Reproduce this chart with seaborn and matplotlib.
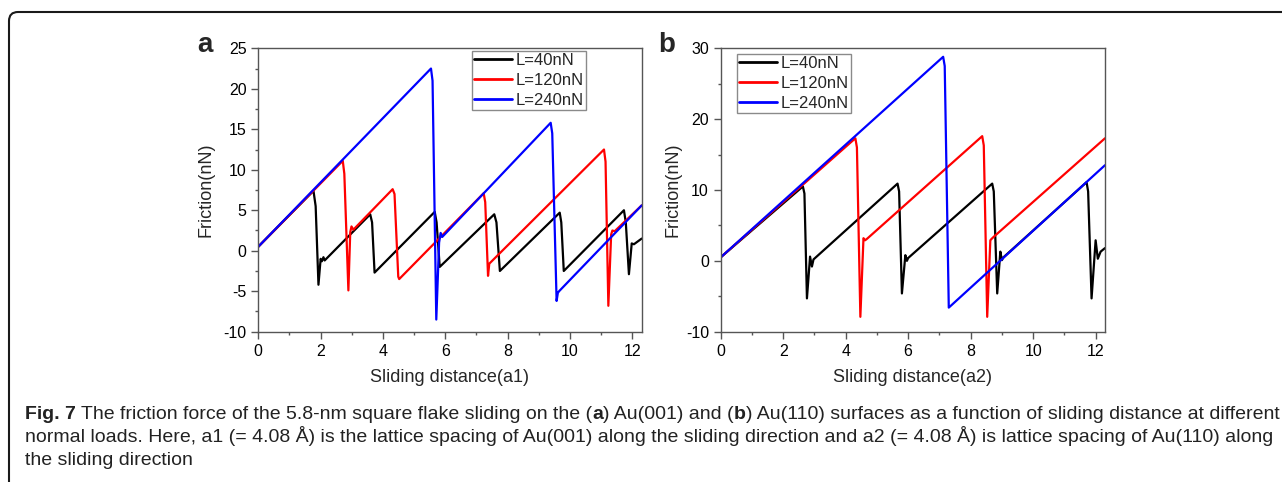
import matplotlib
matplotlib.use("Agg")
import matplotlib.pyplot as plt
import seaborn as sns
import pandas as pd
from matplotlib.patches import FancyBboxPatch
from matplotlib.transforms import IdentityTransform
from matplotlib.ticker import MultipleLocator

# ---------------- data ----------------
loads = ["L=40nN", "L=120nN", "L=240nN"]
colors = ["#000000", "#ff0000", "#0000ff"]

# panel a : Au(001)
a40_x = [0, 1.77, 1.84, 1.93, 2.00, 2.04, 2.09, 2.13, 2.18, 3.59, 3.65, 3.73,
         5.66, 5.72, 5.82, 7.57, 7.64, 7.75, 9.67, 9.72, 9.80, 11.73, 11.79,
         11.89, 11.98, 12.05, 12.30]
a40_y = [0.5, 7.4, 5.5, -4.2, -1.0, -1.3, -0.8, -1.2, -1.0, 4.5, 3.5, -2.7,
         4.8, 3.5, -2.0, 4.5, 3.5, -2.5, 4.7, 3.5, -2.5, 5.0, 3.5,
         -2.9, 0.9, 0.8, 1.5]
a120_x = [0, 2.71, 2.76, 2.89, 2.95, 2.99, 3.05, 4.31, 4.37, 4.49, 4.52,
          7.23, 7.28, 7.37, 7.41, 11.09, 11.14, 11.23, 11.32, 11.36, 11.43, 12.30]
a120_y = [0.5, 11.1, 9.5, -4.9, 2.3, 3.0, 2.6, 7.6, 7.0, -3.2, -3.5,
          7.1, 6.0, -3.1, -1.6, 12.5, 11.0, -6.8, 2.0, 2.5, 2.4, 5.6]
a240_x = [0, 5.54, 5.59, 5.71, 5.80, 5.85, 5.90, 9.38, 9.43, 9.57, 9.61, 9.65, 12.30]
a240_y = [0.5, 22.5, 21.0, -8.5, 1.0, 2.2, 1.7, 15.8, 14.5, -6.2, -5.2, -5.0, 5.6]

# panel b : Au(110)
b40_x = [0, 2.63, 2.68, 2.76, 2.86, 2.92, 2.97, 5.66, 5.71, 5.80, 5.91, 5.96,
         6.00, 8.69, 8.74, 8.85, 8.95, 9.00, 9.05, 11.71, 11.76, 11.87, 12.00,
         12.07, 12.16, 12.30]
b40_y = [0.5, 10.5, 9.5, -5.3, 0.6, -0.8, 0.2, 10.9, 9.8, -4.6, 0.8, 0.0,
         0.4, 10.9, 9.8, -4.6, 1.3, 0.1, 0.5, 11.1, 9.8, -5.3, 2.9,
         0.3, 1.3, 1.8]
b120_x = [0, 4.31, 4.36, 4.47, 4.57, 4.62, 4.68, 8.37, 8.42, 8.53, 8.63, 8.67, 8.74, 12.30]
b120_y = [0.5, 17.3, 16.0, -7.9, 3.2, 2.9, 3.1, 17.6, 16.3, -7.9, 2.9, 3.1, 3.4, 17.3]
b240_x = [0, 7.12, 7.17, 7.30, 12.30]
b240_y = [0.5, 28.8, 27.5, -6.6, 13.5]

xticks = [0, 2, 4, 6, 8, 10, 12]
a_yticks = [-10, -5, 0, 5, 10, 15, 20, 25]
b_yticks = [-10, 0, 10, 20, 30]

caption_runs_1 = [("Fig. 7", True),
                  (" The friction force of the 5.8-nm square flake sliding on the (", False),
                  ("a", True), (") Au(001) and (", False), ("b", True),
                  (") Au(110) surfaces as a function of sliding distance at different", False)]
caption_line_2 = ("normal loads. Here, a1 (= 4.08 \u00c5) is the lattice spacing of Au(001) along "
                  "the sliding direction and a2 (= 4.08 \u00c5) is lattice spacing of Au(110) along")
caption_line_3 = "the sliding direction"


def frame_of(series):
    rows = []
    for lab, xs, ys in series:
        for xv, yv in zip(xs, ys):
            rows.append({"x": xv, "y": yv, "load": lab})
    return pd.DataFrame(rows)


df_a = frame_of([(loads[0], a40_x, a40_y), (loads[1], a120_x, a120_y), (loads[2], a240_x, a240_y)])
df_b = frame_of([(loads[0], b40_x, b40_y), (loads[1], b120_x, b120_y), (loads[2], b240_x, b240_y)])

# ---------------- figure ----------------
sns.set_style("ticks")
plt.rcParams['font.family'] = ['Liberation Sans', 'DejaVu Sans']
plt.rcParams['axes.unicode_minus'] = False

W, H = 1282, 482
fig = plt.figure(figsize=(W / 100, H / 100), dpi=100)


def px_axes(l, t, r, b):
    return fig.add_axes([l / W, 1 - b / H, (r - l) / W, (b - t) / H])


axA = px_axes(258.3, 48.3, 641.7, 331.7)
axB = px_axes(720.7, 48.3, 1105.0, 331.7)

palette = dict(zip(loads, colors))
spine_c = "#555555"

for ax, df, yt, ymin, ymax, yminor, xlabel, leg_anchor, ylab_x in [
        (axA, df_a, a_yticks, -10, 25, 2.5, "Sliding distance(a1)", (0.557, 0.990), -0.113),
        (axB, df_b, b_yticks, -10, 30, 5, "Sliding distance(a2)", (0.042, 0.980), -0.103)]:
    sns.lineplot(data=df, x="x", y="y", hue="load", hue_order=loads, palette=palette,
                 sort=False, estimator=None, linewidth=1.6, ax=ax)
    ax.set_xlim(0, 12.3)
    ax.set_ylim(ymin, ymax)
    ax.set_xticks(xticks)
    ax.set_yticks(yt)
    ax.xaxis.set_minor_locator(MultipleLocator(1))
    ax.yaxis.set_minor_locator(MultipleLocator(yminor))
    ax.tick_params(which="major", direction="out", length=5, width=1, color=spine_c,
                   labelsize=11.5, labelcolor="black", pad=3.5)
    ax.tick_params(which="minor", direction="out", length=2.5, width=1, color=spine_c)
    ax.tick_params(top=False, right=False, which="both")
    for s in ax.spines.values():
        s.set_visible(True)
        s.set_color(spine_c)
        s.set_linewidth(1)
    ax.set_xlabel(xlabel, fontsize=13)
    ax.set_ylabel("Friction(nN)", fontsize=13)
    ax.xaxis.set_label_coords(0.5, -0.13)
    ax.yaxis.set_label_coords(ylab_x, 0.5)
    h, l = ax.get_legend_handles_labels()
    leg = ax.legend(h, l, loc="upper left", bbox_to_anchor=leg_anchor, fontsize=12,
                    frameon=True, fancybox=False, framealpha=1, edgecolor="#8a8a8a",
                    handlelength=2.3, handletextpad=0.2, labelspacing=0.3,
                    borderpad=0.12, borderaxespad=0)
    leg.get_frame().set_linewidth(1)
    for ln in leg.get_lines():
        ln.set_linewidth(2)

fig.text(197 / W, 1 - 52 / H, "a", fontsize=20, fontweight="bold", ha="left", va="baseline")
fig.text(658 / W, 1 - 52 / H, "b", fontsize=20, fontweight="bold", ha="left", va="baseline")

# rounded outer frame (top-left corner visible)
frame = FancyBboxPatch((9, -30), W + 30, (H - 12) + 30,
                       boxstyle="round,pad=0,rounding_size=9",
                       transform=IdentityTransform(), fill=False, lw=1.5,
                       ec="#1a1a1a", clip_on=False)
fig.add_artist(frame)

# ---------------- caption ----------------
renderer = fig.canvas.get_renderer()
cap_color = "#222222"


def text_width(s, size, bold):
    kw = dict(fontsize=size, fontweight="bold" if bold else "normal")
    t1 = fig.text(0, 0, "|" + s + "|", **kw)
    w1 = t1.get_window_extent(renderer).width
    t1.remove()
    t0 = fig.text(0, 0, "||", **kw)
    w0 = t0.get_window_extent(renderer).width
    t0.remove()
    return w1 - w0


base = 12.0
w_line1 = sum(text_width(s, base, b) for s, b in caption_runs_1)
cap_size = base * (1251.0 / w_line1)


def draw_runs(runs, x_px, baseline_px, size):
    x = x_px
    for s, b in runs:
        stripped = s.lstrip(" ")
        lead = s[:len(s) - len(stripped)]
        if lead:
            x += text_width(lead, size, b)
        fig.text(x / W, 1 - baseline_px / H, stripped, fontsize=size,
                 fontweight="bold" if b else "normal", color=cap_color,
                 ha="left", va="baseline")
        x += text_width(stripped, size, b)


draw_runs(caption_runs_1, 25, 419, cap_size)
draw_runs([(caption_line_2, False)], 25, 442, cap_size)
draw_runs([(caption_line_3, False)], 25, 465, cap_size)

fig.savefig("out.png", dpi=100)
